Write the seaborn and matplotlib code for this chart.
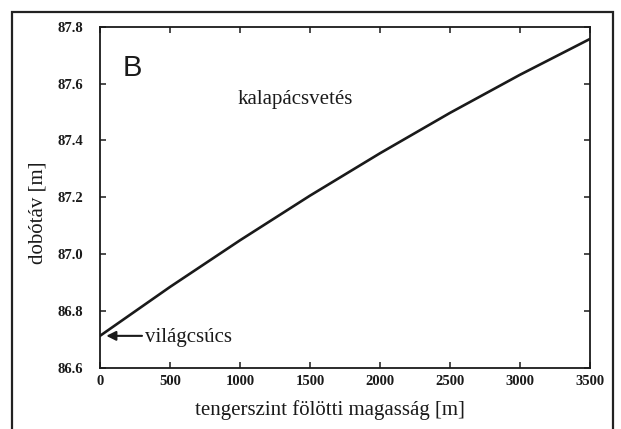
import matplotlib
matplotlib.use("Agg")
import matplotlib.pyplot as plt
import seaborn as sns
import pandas as pd
from matplotlib.patches import Rectangle

# ---- data ----
altitude_m = [0, 500, 1000, 1500, 2000, 2500, 3000, 3500]
throw_m = [86.713, 86.885, 87.049, 87.206, 87.355, 87.497, 87.631, 87.757]
x_ticks = [0, 500, 1000, 1500, 2000, 2500, 3000, 3500]
y_ticks = [86.6, 86.8, 87.0, 87.2, 87.4, 87.6, 87.8]
y_tick_labels = ["86.6", "86.8", "87.0", "87.2", "87.4", "87.6", "87.8"]
record_value = 86.713

panel_letter = "B"
event_label = "kalapácsvetés"
record_label = "világcsúcs"
x_label = "tengerszint fölötti magasság [m]"
y_label = "dobótáv [m]"

df = pd.DataFrame({"alt": altitude_m, "dist": throw_m})

sns.set_theme(style="ticks")
plt.rcParams["font.family"] = ["Liberation Serif", "DejaVu Serif"]

fig = plt.figure(figsize=(6.21, 4.29), dpi=100)
fig.patch.set_facecolor("white")
ax = fig.add_axes([100 / 621, 1 - 368 / 429, 490 / 621, 341.3 / 429])
ax.set_facecolor("white")

sns.lineplot(data=df, x="alt", y="dist", ax=ax, color="#1a1a1a", linewidth=1.9)

ax.set_xlim(0, 3500)
ax.set_ylim(86.6, 87.8)
ax.set_xticks(x_ticks)
ax.set_yticks(y_ticks)
ax.set_yticklabels(y_tick_labels)

for s in ax.spines.values():
    s.set_visible(True)
    s.set_linewidth(1.3)
    s.set_color("#1a1a1a")

ax.tick_params(axis="both", direction="in", length=4, width=1.1, color="#1a1a1a",
               top=True, right=True, labelsize=10.5, labelcolor="#1a1a1a")
ax.tick_params(axis="y", pad=12)
ax.tick_params(axis="x", pad=5)
for lab in ax.get_xticklabels() + ax.get_yticklabels():
    lab.set_fontweight("bold")

ax.set_xlabel(x_label, fontsize=15, color="#1a1a1a")
ax.xaxis.set_label_coords(0.469, -0.095)
ax.set_ylabel(y_label, fontsize=15, color="#1a1a1a")
ax.yaxis.set_label_coords(-0.108, 0.454)

ax.text(164, 87.627, panel_letter, fontsize=21, family=["Liberation Sans", "DejaVu Sans"],
        color="#1a1a1a", va="baseline", ha="left")
ax.text(986, 87.528, event_label, fontsize=15, color="#1a1a1a", va="baseline", ha="left")

ax.annotate("", xy=(45, record_value), xytext=(300, record_value),
            arrowprops=dict(arrowstyle="-|>", lw=1.5, color="#1a1a1a", mutation_scale=14,
                            shrinkA=0, shrinkB=0))
ax.text(321, 86.692, record_label, fontsize=15, color="#1a1a1a", va="baseline", ha="left")

# outer frame
fig.patches.append(Rectangle((12 / 621, -0.05), (613 - 12) / 621, 1 - 12 / 429 + 0.05,
                             transform=fig.transFigure, fill=False, lw=1.6,
                             edgecolor="#222222", clip_on=False))

fig.savefig("out.png", dpi=100)
